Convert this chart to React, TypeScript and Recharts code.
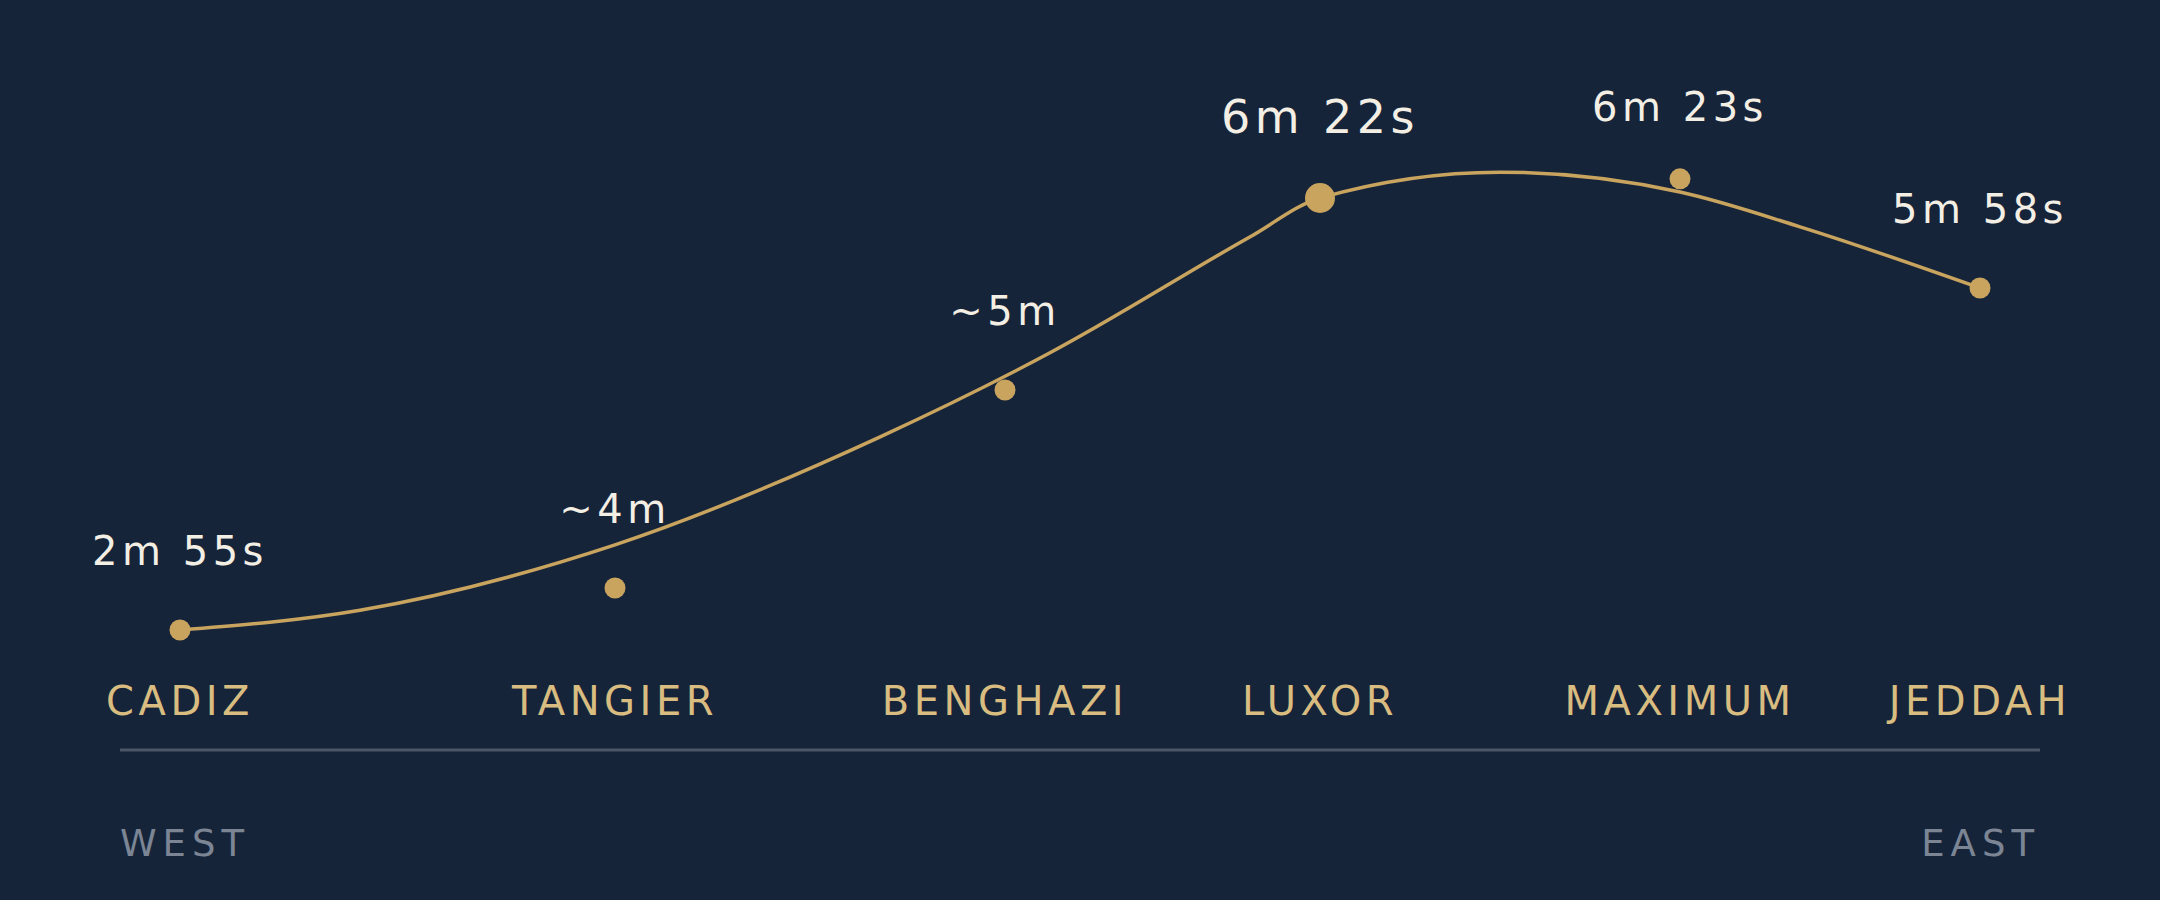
import { ComposedChart, Line, Scatter, XAxis, YAxis } from 'recharts';

const cities = ['CADIZ', 'TANGIER', 'BENGHAZI', 'LUXOR', 'MAXIMUM', 'JEDDAH'];
const cityPos = [1, 8.25, 14.75, 20, 26, 31];
const cityHeight = [20, 27, 60, 92, 95.2, 77];
const durations = ['2m 55s', '~4m', '~5m', '6m 22s', '6m 23s', '5m 58s'];

// the drawn track (it does not run through every stop)
const trackPos = [1, 4, 8.25, 12.67, 15.5, 18.83, 20, 23, 26, 28, 31];
const trackHeight = [20, 23.3, 34.2, 52.2, 66.2, 85.5, 92, 96.3, 93, 87.2, 77];

const directions = ['WEST', 'EAST'];
const span = [0, 32];

const BG = '#16243a';
const GOLD = '#c8a45f';
const SAND = '#d8bc80';
const CREAM = '#f4efe4';
const RULE = '#4b5669';
const MUTED = '#7b8594';

const track = trackPos.map((x, i) => ({ x, y: trackHeight[i] }));
const stops = cities.map((name, i) => ({ name, x: cityPos[i], y: cityHeight[i], duration: durations[i] }));

function Stop(props: any) {
  const { cx, cy, payload } = props;
  const peak = payload.name === 'LUXOR';
  const lift = payload.name === 'MAXIMUM' ? 58 : 65;
  return (
    <g>
      <circle cx={cx} cy={cy} r={peak ? 15 : 10.5} fill={GOLD} />
      <text x={cx} y={cy - lift} textAnchor="middle" fill={CREAM}
        fontSize={peak ? 46 : 40} letterSpacing={4.5}>
        {payload.duration}
      </text>
    </g>
  );
}

function CityTick(props: any) {
  const { x, y, payload } = props;
  const i = cityPos.indexOf(payload.value);
  return (
    <text x={x} y={y - 35} textAnchor="middle" fill={SAND} fontSize={40} letterSpacing={4.5}>
      {cities[i]}
    </text>
  );
}

function DirTick(props: any) {
  const { x, y, payload } = props;
  const west = payload.value === span[0];
  return (
    <text x={x} y={y + 46} textAnchor={west ? 'start' : 'end'} fill={MUTED} fontSize={37} letterSpacing={6}>
      {west ? directions[0] : directions[1]}
    </text>
  );
}

export default function App() {
  return (
    <div style={{ width: 2160, height: 900, background: BG, fontFamily: '"DejaVu Sans", sans-serif' }}>
      <style>{'body{margin:0;background:' + BG + '}'}</style>
      <ComposedChart width={2160} height={900} data={track}
        margin={{ top: 150, right: 120, bottom: 0, left: 120 }}>
        <XAxis xAxisId={0} dataKey="x" type="number" domain={span} ticks={cityPos} interval={0}
          tick={<CityTick />} tickLine={false} tickSize={0} tickMargin={0}
          axisLine={{ stroke: RULE, strokeWidth: 3 }} height={60} />
        <XAxis xAxisId={1} dataKey="x" type="number" domain={span} ticks={span} interval={0}
          tick={<DirTick />} tickLine={false} tickSize={0} tickMargin={0} axisLine={false} height={90} />
        <YAxis type="number" domain={[0, 100]} hide />
        <Line xAxisId={0} dataKey="y" type="monotone" stroke={GOLD} strokeWidth={3.5}
          dot={false} activeDot={false} isAnimationActive={false} />
        <Scatter xAxisId={0} data={stops} dataKey="y" shape={Stop} isAnimationActive={false} />
      </ComposedChart>
    </div>
  );
}
